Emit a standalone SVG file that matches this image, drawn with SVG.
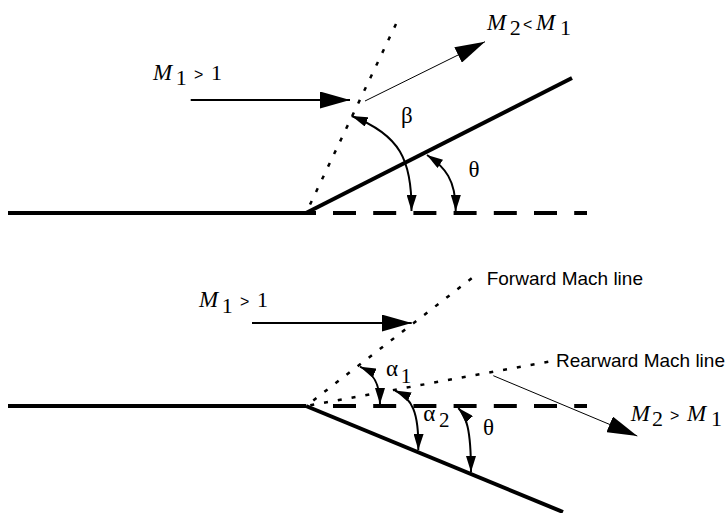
<svg xmlns="http://www.w3.org/2000/svg" width="727" height="513" viewBox="0 0 727 513">
<style>
.wall{stroke:#000;stroke-width:4;fill:none}
.dash{stroke:#000;stroke-width:4;fill:none;stroke-dasharray:23 17.2}
.dot{stroke:#000;stroke-width:2.5;fill:none;stroke-dasharray:4 10}
.flow{stroke:#000;stroke-width:2;fill:none;marker-end:url(#big)}
.flow2{stroke:#000;stroke-width:1;fill:none;marker-end:url(#big)}
.arc{stroke:#000;stroke-width:2;fill:none;marker-start:url(#small);marker-end:url(#small)}
.m{font-family:"Liberation Serif","DejaVu Serif",serif;font-size:22px;fill:#000}
.mi{font-style:italic;font-size:23px}
.op{font-family:"Liberation Sans",sans-serif;font-size:16px}
.g{font-family:"Liberation Serif","DejaVu Serif",serif;font-size:23px;fill:#000}
.gs{font-size:21px}
.s{font-family:"Liberation Sans","DejaVu Sans",sans-serif;font-size:19px;fill:#000}
</style>
<defs>
<marker id="big" markerUnits="userSpaceOnUse" markerWidth="30" markerHeight="17" refX="30" refY="8.5" orient="auto"><path d="M0,0 L30,8.5 L0,17 z" fill="#000"/></marker>
<marker id="small" markerUnits="userSpaceOnUse" markerWidth="16" markerHeight="10" refX="16" refY="5" orient="auto-start-reverse"><path d="M0,0 L16,5 L0,10 z" fill="#000"/></marker>
</defs>

<!-- Top figure: oblique shock -->
<g id="top-wall">
<line class="wall" x1="8" y1="213" x2="316" y2="213"/>
<line class="dash" x1="333" y1="213" x2="587" y2="213"/>
<line class="wall" x1="306" y1="213" x2="572" y2="78"/>
</g>
<g id="top-shock"><line class="dot" x1="396" y1="24" x2="306" y2="213"/></g>
<g id="top-connectors">
<line class="flow" x1="190.7" y1="100" x2="350" y2="100"/>
<line class="flow2" x1="365" y1="101" x2="485" y2="41.7"/>
<path class="arc" d="M351.7,116 C400,135 412,160 411.5,211"/>
<path class="arc" d="M427,155 C445,167 456,180 455.7,211"/>
</g>
<g id="top-labels">
<text class="m" y="80"><tspan class="mi" x="153">M</tspan><tspan x="175.7" y="85.3">1</tspan><tspan class="op" x="194" y="80">&gt;</tspan><tspan x="211" y="80">1</tspan></text>
<text class="m" y="30"><tspan class="mi" x="487">M</tspan><tspan x="509.7" y="35.3">2</tspan><tspan class="op" x="523" y="30">&lt;</tspan><tspan class="mi" x="536" y="30">M</tspan><tspan x="560" y="35.3">1</tspan></text>
<text class="g" x="401" y="123">β</text>
<text class="g" x="468.5" y="176.7">θ</text>
</g>

<!-- Bottom figure: expansion fan -->
<g id="bottom-wall">
<line class="wall" x1="8" y1="406" x2="306" y2="406"/>
<line class="dash" x1="333" y1="406" x2="587" y2="406"/>
<line class="wall" x1="306" y1="406" x2="563" y2="512"/>
</g>
<g id="forward-mach-line"><line class="dot" x1="471.7" y1="278.3" x2="306" y2="406"/><text class="s" x="486.7" y="285">Forward Mach line</text></g>
<g id="rearward-mach-line"><line class="dot" x1="548.3" y1="361.7" x2="306" y2="406"/><text class="s" x="556" y="367.3">Rearward Mach line</text></g>
<g id="bottom-connectors">
<line class="flow" x1="252" y1="323" x2="411.7" y2="323"/>
<line class="flow2" x1="493.3" y1="375.7" x2="637.3" y2="436"/>
<path class="arc" d="M360,366.7 C372,372 380,382 380,404"/>
<path class="arc" d="M395,390.5 C412,398 419,412 418.3,450"/>
<path class="arc" d="M458.3,408 C466,416 471,428 471,472"/>
</g>
<g id="bottom-labels">
<text class="m" y="307.3"><tspan class="mi" x="199">M</tspan><tspan x="221.7" y="312.7">1</tspan><tspan class="op" x="240" y="307.3">&gt;</tspan><tspan x="257" y="307.3">1</tspan></text>
<text class="m" y="420.7"><tspan class="mi" x="630.7">M</tspan><tspan x="652" y="426">2</tspan><tspan class="op" x="670" y="420.7">&gt;</tspan><tspan class="mi" x="687" y="420.7">M</tspan><tspan x="711" y="426">1</tspan></text>
<text class="g" y="375.7"><tspan x="386">α</tspan><tspan class="gs" x="400.7" y="383.3">1</tspan></text>
<text class="g" y="420.5"><tspan x="423.3">α</tspan><tspan class="gs" x="439" y="426.7">2</tspan></text>
<text class="g" x="483" y="435">θ</text>
</g>
</svg>
